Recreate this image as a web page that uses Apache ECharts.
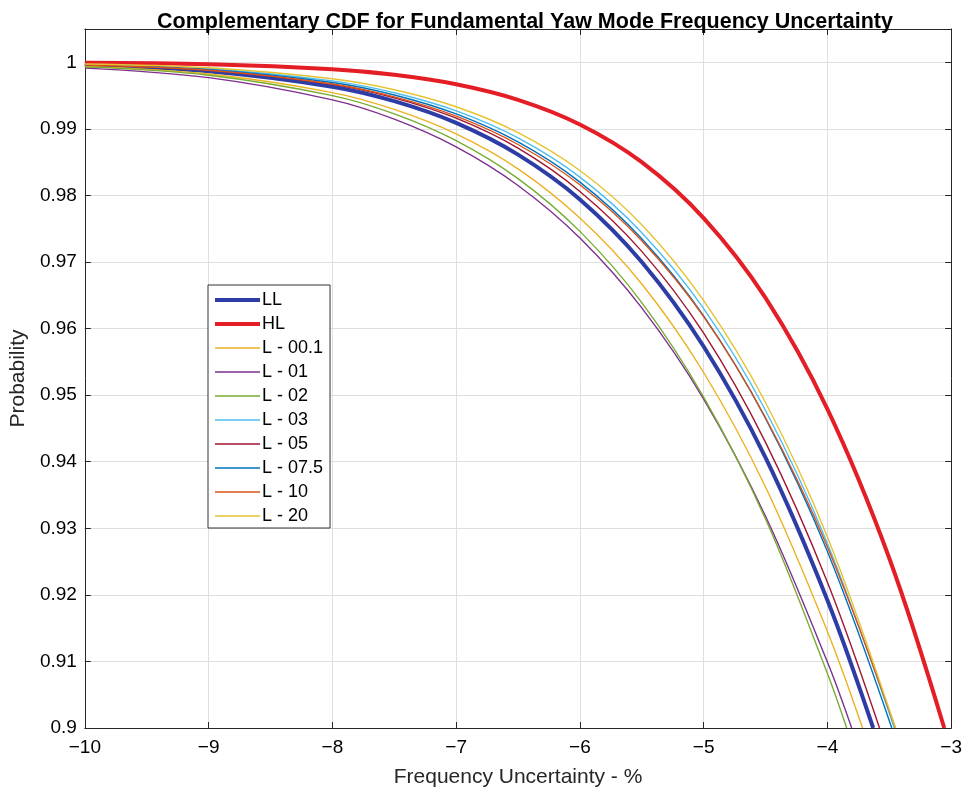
<!DOCTYPE html>
<html>
<head>
<meta charset="utf-8">
<script src="https://cdn.jsdelivr.net/npm/echarts@6/dist/echarts.min.js"></script>
<style>
  html, body { margin: 0; padding: 0; background: #fff; }
  #chart { width: 965px; height: 793px; }
</style>
</head>
<body>
<div id="chart"></div>
<script>
// Complementary CDF curves: [frequency uncertainty %, probability]
const LL = [[-10,0.99955],[-9,0.99866],[-8,0.99634],[-7.5,0.99416],[-7,0.9909],[-6.5,0.98613],[-6,0.9794],[-5.5,0.9700],[-5,0.9573],[-4.5,0.9406],[-4,0.9192],[-3.63,0.9]];
const HL = [[-10,0.99993],[-9,0.99971],[-8,0.99896],[-7.5,0.99812],[-7,0.9967],[-6.5,0.99436],[-6,0.99066],[-5.5,0.985],[-5,0.9766],[-4.5,0.9646],[-4,0.9479],[-3.5,0.9255],[-3.056,0.9]];
const L001 = [[-10,0.99938],[-9,0.99824],[-8,0.99545],[-7.5,0.99292],[-7,0.98925],[-6.5,0.984],[-6,0.9766],[-5.5,0.9667],[-5,0.9534],[-4.5,0.9362],[-4,0.9145],[-3.716,0.9]];
const L01 = [[-10,0.99913],[-9,0.99769],[-8,0.99436],[-7.5,0.99146],[-7,0.9873],[-6.5,0.9815],[-6,0.9736],[-5.5,0.9631],[-5,0.9494],[-4.5,0.9318],[-4,0.9099],[-3.804,0.9]];
const L02 = [[-10,0.99931],[-9,0.99806],[-8,0.995],[-7.5,0.99226],[-7,0.98824],[-6.5,0.98253],[-6,0.9746],[-5.5,0.9639],[-5,0.9497],[-4.5,0.9314],[-4,0.9082],[-3.844,0.9]];
const L03 = [[-10,0.99969],[-9,0.99903],[-8,0.9972],[-7.5,0.99542],[-7,0.9927],[-6.5,0.98864],[-6,0.98275],[-5.5,0.9744],[-5,0.963],[-4.5,0.9477],[-4,0.9277],[-3.46,0.9]];
const L05 = [[-10,0.99962],[-9,0.99882],[-8,0.99669],[-7.5,0.99466],[-7,0.9916],[-6.5,0.9871],[-6,0.9806],[-5.5,0.9716],[-5,0.9593],[-4.5,0.9429],[-4,0.9219],[-3.579,0.9]];
const L075 = [[-10,0.99965],[-9,0.99892],[-8,0.99696],[-7.5,0.99509],[-7,0.99224],[-6.5,0.98803],[-6,0.982],[-5.5,0.9735],[-5,0.9619],[-4.5,0.9465],[-4,0.9265],[-3.48,0.9]];
const L10 = [[-10,0.9996],[-9,0.9988],[-8,0.99674],[-7.5,0.9948],[-7,0.9919],[-6.5,0.98765],[-6,0.9816],[-5.5,0.9732],[-5,0.9618],[-4.5,0.9466],[-4,0.9272],[-3.45,0.9]];
const L20 = [[-10,0.99975],[-9,0.99917],[-8,0.99752],[-7.5,0.99588],[-7,0.99332],[-6.5,0.98944],[-6,0.98374],[-5.5,0.9756],[-5,0.9642],[-4.5,0.9489],[-4,0.9287],[-3.45,0.9]];

const seriesNames = ['LL', 'HL', 'L - 00.1', 'L - 01', 'L - 02', 'L - 03', 'L - 05', 'L - 07.5', 'L - 10', 'L - 20'];
const seriesData = [LL, HL, L001, L01, L02, L03, L05, L075, L10, L20];
const seriesColors = ['#2E3DA6', '#E41E26', '#EDB120', '#7E2F8E', '#77AC30', '#4DBEEE', '#A2142F', '#0072BD', '#D95319', '#E6C233'];
const seriesWidths = [4, 4, 1.4, 1.4, 1.4, 1.4, 1.4, 1.4, 1.4, 1.4];

const xMin = -10, xMax = -3, xStep = 1;
const yMin = 0.9, yMax = 1.005, yStep = 0.01;

const FONT = 'Liberation Sans, Arial, Helvetica, sans-serif';
const ink = '#262626';

const chart = echarts.init(document.getElementById('chart'), null, { renderer: 'canvas' });

const minusFmt = v => String(v).replace('-', '\u2212');

chart.setOption({
  animation: false,
  backgroundColor: '#fff',
  title: {
    text: 'Complementary CDF for Fundamental Yaw Mode Frequency Uncertainty',
    left: 520, top: 6, textAlign: 'center',
    textStyle: { fontFamily: FONT, fontWeight: 'bold', fontSize: 21.5, color: '#000' }
  },
  grid: { left: 84, right: 10, top: 29, bottom: 65, containLabel: false },
  legend: {
    orient: 'vertical', left: 208, top: 285,
    padding: [6, 7, 3, 5],
    itemWidth: 45, itemHeight: 18, itemGap: 6,
    backgroundColor: '#fff', borderColor: '#333', borderWidth: 1,
    itemStyle: { opacity: 0 },
    data: seriesNames.map((n, i) => ({ name: n, lineStyle: { width: seriesWidths[i] > 2 ? 4 : 1.5, opacity: 1 } })),
    textStyle: { fontFamily: FONT, fontSize: 18, color: '#000', lineHeight: 18, padding: [0, 0, 0, -3] }
  },
  xAxis: [{
    type: 'value', min: xMin, max: xMax, interval: xStep,
    name: 'Frequency Uncertainty - %', nameLocation: 'middle', nameGap: 39,
    nameTextStyle: { fontFamily: FONT, fontSize: 21, color: ink },
    axisLine: { show: true, onZero: false, lineStyle: { color: ink, width: 1 } },
    axisTick: { inside: true, length: 6, lineStyle: { color: ink } },
    axisLabel: { formatter: minusFmt, fontFamily: FONT, fontSize: 19, color: '#000', margin: 10 },
    splitLine: { show: true, lineStyle: { color: '#dfdfdf', width: 1 } }
  }, {
    type: 'value', position: 'top', min: xMin, max: xMax, interval: xStep,
    axisLine: { show: true, onZero: false, lineStyle: { color: ink, width: 1 } },
    axisTick: { inside: true, length: 6, lineStyle: { color: ink } },
    axisLabel: { show: false }, splitLine: { show: false }
  }],
  yAxis: [{
    type: 'value', min: yMin, max: yMax, interval: yStep,
    name: 'Probability', nameLocation: 'middle', nameGap: 49, nameRotate: 90,
    nameTextStyle: { fontFamily: FONT, fontSize: 21, color: ink },
    axisLine: { show: true, onZero: false, lineStyle: { color: ink, width: 1 } },
    axisTick: { inside: true, length: 6, lineStyle: { color: ink } },
    axisLabel: { formatter: v => String(+v.toFixed(2)), showMaxLabel: false, fontFamily: FONT, fontSize: 19, color: '#000', margin: 8 },
    splitLine: { show: true, lineStyle: { color: '#dfdfdf', width: 1 } }
  }, {
    type: 'value', position: 'right', min: yMin, max: yMax, interval: yStep,
    axisLine: { show: true, onZero: false, lineStyle: { color: ink, width: 1 } },
    axisTick: { inside: true, length: 6, lineStyle: { color: ink } },
    axisLabel: { show: false }, splitLine: { show: false }
  }],
  series: seriesNames.map((name, i) => ({
    name: name,
    type: 'line',
    data: seriesData[i],
    smooth: 0.35,
    symbol: 'none',
    clip: true,
    color: seriesColors[i],
    lineStyle: { color: seriesColors[i], width: seriesWidths[i] },
    emphasis: { disabled: true }
  }))
});
</script>
</body>
</html>
